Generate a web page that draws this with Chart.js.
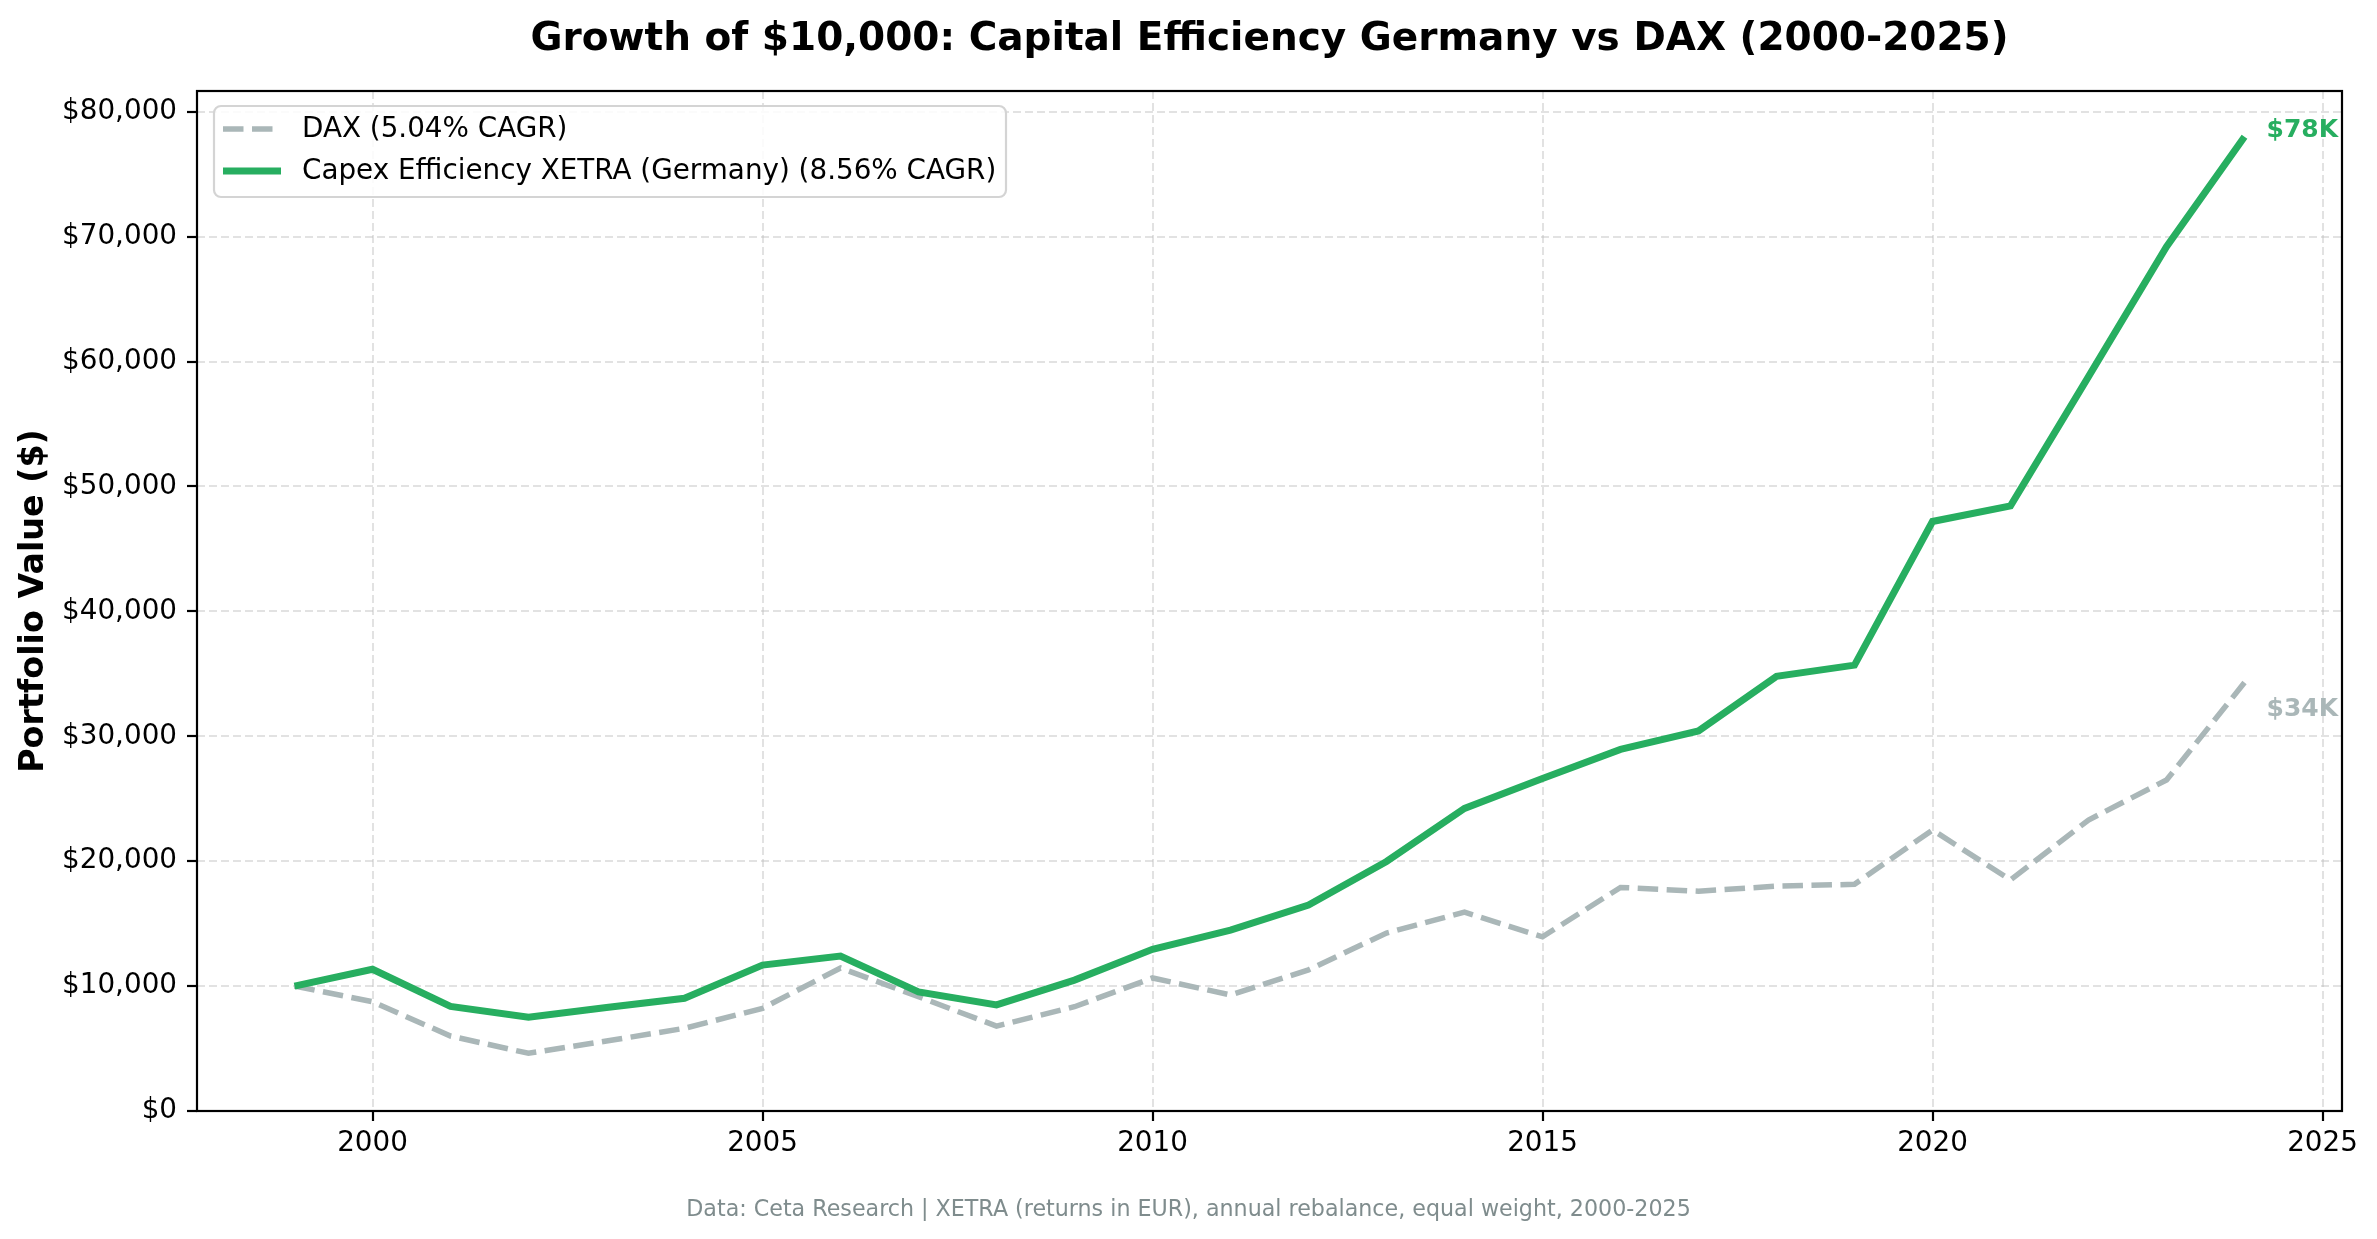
<!DOCTYPE html>
<html>
<head>
<meta charset="utf-8">
<script src="https://cdn.jsdelivr.net/npm/chart.js@4.4.1/dist/chart.umd.min.js"></script>
<style>
  html, body { margin: 0; padding: 0; background: #fff; }
  canvas { display: block; }
</style>
</head>
<body>
<canvas id="growth" width="2377" height="1239"></canvas>
<script>
// values
const years = [1999, 2000, 2001, 2002, 2003, 2004, 2005, 2006, 2007, 2008, 2009, 2010, 2011, 2012,
  2013, 2014, 2015, 2016, 2017, 2018, 2019, 2020, 2021, 2022, 2023, 2024]
const daxValues = [10000, 8750, 6000, 4620, 5600, 6620, 8220, 11450, 9150, 6800, 8350, 10650, 9290, 11300,
  14250, 15920, 13950, 17900, 17600, 18000, 18150, 22500, 18500, 23300, 26500, 34300]
const capexValues = [10000, 11350, 8370, 7500, 8280, 9030, 11680, 12410, 9540, 8490, 10480, 12950, 14480, 16490,
  19980, 24230, 26620, 28950, 30430, 34800, 35700, 47200, 48450, 58800, 69200, 78000]
const seriesNames = ['DAX (5.04% CAGR)', 'Capex Efficiency XETRA (Germany) (8.56% CAGR)']
const endLabels = ['$34K', '$78K']
const xTicks = [2000, 2005, 2010, 2015, 2020, 2025]
const yTicks = [0, 10000, 20000, 30000, 40000, 50000, 60000, 70000, 80000]

const GREEN = '#27ae60'
const GREY = '#aab7b8'
const FONT = '"DejaVu Sans", "Liberation Sans", sans-serif'

function toPoints(vals) {
  return years.map((y, i) => ({ x: y, y: vals[i] }))
}

const decor = {
  id: 'decor',
  afterDraw(chart) {
    const ctx = chart.ctx
    const a = chart.chartArea
    const xs = chart.scales.x
    const ys = chart.scales.y
    ctx.save()

    // frame on all four sides
    ctx.strokeStyle = '#000'
    ctx.lineWidth = 2.2
    ctx.strokeRect(a.left, a.top, a.right - a.left, a.bottom - a.top)

    // end-of-line value labels
    ctx.font = 'bold 25px ' + FONT
    ctx.textAlign = 'left'
    ctx.textBaseline = 'middle'
    const last = years.length - 1
    ctx.fillStyle = GREY
    ctx.fillText(endLabels[0], xs.getPixelForValue(years[last]) + 22, ys.getPixelForValue(daxValues[last]) + 27)
    ctx.fillStyle = GREEN
    ctx.fillText(endLabels[1], xs.getPixelForValue(years[last]) + 22, ys.getPixelForValue(capexValues[last]) - 6)

    // legend box in the upper left of the plot
    const bx = 214, by = 106, bw = 792, bh = 91
    ctx.beginPath()
    ctx.roundRect(bx, by, bw, bh, 7)
    ctx.fillStyle = 'rgba(255,255,255,0.85)'
    ctx.fill()
    ctx.strokeStyle = '#d4d4d4'
    ctx.lineWidth = 2.2
    ctx.stroke()
    const rows = [
      { y: 129, color: GREY, width: 5.5, dash: [20.5, 8.5] },
      { y: 171, color: GREEN, width: 7, dash: [] }
    ]
    rows.forEach((r, i) => {
      ctx.beginPath()
      ctx.setLineDash(r.dash)
      ctx.strokeStyle = r.color
      ctx.lineWidth = r.width
      ctx.moveTo(223, r.y)
      ctx.lineTo(281, r.y)
      ctx.stroke()
      ctx.setLineDash([])
      ctx.fillStyle = '#000'
      ctx.font = '27.8px ' + FONT
      ctx.textAlign = 'left'
      ctx.textBaseline = 'middle'
      ctx.fillText(chart.data.datasets[i].label, 302, r.y + 1)
    })

    // title
    ctx.fillStyle = '#000'
    ctx.font = 'bold 39px ' + FONT
    ctx.textAlign = 'center'
    ctx.textBaseline = 'middle'
    ctx.fillText('Growth of $10,000: Capital Efficiency Germany vs DAX (2000-2025)', (a.left + a.right) / 2, 40)

    // y axis title
    ctx.save()
    ctx.translate(34, (a.top + a.bottom) / 2)
    ctx.rotate(-Math.PI / 2)
    ctx.font = 'bold 33.3px ' + FONT
    ctx.fillText('Portfolio Value ($)', 0, 0)
    ctx.restore()

    // footnote
    ctx.fillStyle = '#7f8c8d'
    ctx.font = '22.2px ' + FONT
    ctx.fillText('Data: Ceta Research | XETRA (returns in EUR), annual rebalance, equal weight, 2000-2025', chart.width / 2, 1210)

    ctx.restore()
  }
}

new Chart(document.getElementById('growth'), {
  type: 'line',
  data: {
    datasets: [{
      label: seriesNames[0],
      data: toPoints(daxValues),
      borderColor: GREY,
      borderWidth: 5.5,
      borderDash: [20.5, 8.5],
      pointRadius: 0,
      tension: 0,
      order: 2
    }, {
      label: seriesNames[1],
      data: toPoints(capexValues),
      borderColor: GREEN,
      borderWidth: 7,
      pointRadius: 0,
      tension: 0,
      order: 1
    }]
  },
  options: {
    responsive: false,
    animation: false,
    devicePixelRatio: 1,
    layout: { padding: { left: 0, right: 35, top: 91, bottom: 0 } },
    plugins: {
      legend: { display: false },
      title: { display: false },
      tooltip: { enabled: false }
    },
    scales: {
      x: {
        type: 'linear',
        min: 1997.75,
        max: 2025.25,
        afterFit: s => { s.height = 128 },
        afterBuildTicks: s => { s.ticks = xTicks.map(v => ({ value: v })) },
        ticks: {
          color: '#000',
          font: { family: FONT, size: 27.8 },
          padding: 6,
          maxRotation: 0,
          callback: v => String(v)
        },
        grid: {
          color: 'rgba(190,190,190,0.45)',
          lineWidth: 2,
          tickColor: '#000',
          tickLength: 10,
          tickWidth: 2.2,
          tickBorderDash: []
        },
        border: { display: false, dash: [8, 4] }
      },
      y: {
        min: 0,
        max: 81665,
        afterFit: s => { s.width = 197 },
        afterBuildTicks: s => { s.ticks = yTicks.map(v => ({ value: v })) },
        ticks: {
          color: '#000',
          font: { family: FONT, size: 27.8 },
          padding: 10,
          callback: v => '$' + v.toLocaleString('en-US')
        },
        grid: {
          color: 'rgba(190,190,190,0.45)',
          lineWidth: 2,
          tickColor: '#000',
          tickLength: 10,
          tickWidth: 2.2,
          tickBorderDash: []
        },
        border: { display: false, dash: [8, 4] }
      }
    }
  },
  plugins: [decor]
})
</script>
</body>
</html>
